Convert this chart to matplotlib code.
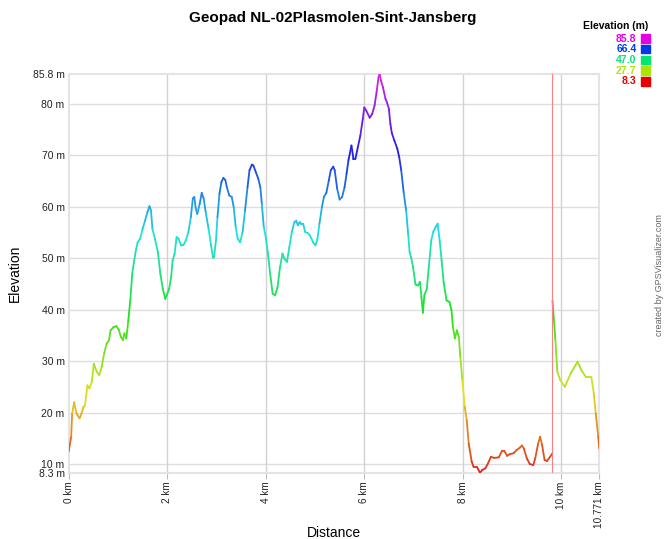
import colorsys
import numpy as np
import matplotlib
matplotlib.use("Agg")
import matplotlib.pyplot as plt
from matplotlib.collections import LineCollection
from matplotlib.patches import Rectangle

plt.rcParams['font.family'] = ['Liberation Sans', 'DejaVu Sans']

# track 1 (distance km, elevation m)
dist1 = [0.00, 0.05, 0.07, 0.11, 0.16, 0.22, 0.26, 0.30, 0.33, 0.38, 0.42, 0.47, 0.51, 0.57,
         0.62, 0.67, 0.72, 0.77, 0.82, 0.85, 0.91, 0.97, 1.02, 1.06, 1.10, 1.13, 1.17, 1.21,
         1.25, 1.29, 1.33, 1.37, 1.40, 1.45, 1.50, 1.55, 1.60, 1.64, 1.67, 1.70, 1.75, 1.81,
         1.86, 1.91, 1.96, 1.99, 2.04, 2.08, 2.11, 2.15, 2.19, 2.23, 2.28, 2.33, 2.38, 2.43,
         2.48, 2.52, 2.55, 2.58, 2.61, 2.66, 2.70, 2.74, 2.78, 2.84, 2.89, 2.93, 2.95, 2.99,
         3.02, 3.06, 3.10, 3.14, 3.18, 3.21, 3.26, 3.31, 3.35, 3.39, 3.43, 3.48, 3.53, 3.58,
         3.63, 3.67, 3.72, 3.75, 3.80, 3.85, 3.89, 3.92, 3.96, 4.00, 4.04, 4.09, 4.14, 4.19,
         4.24, 4.29, 4.34, 4.38, 4.43, 4.48, 4.53, 4.58, 4.62, 4.65, 4.69, 4.72, 4.76, 4.80,
         4.85, 4.90, 4.96, 5.01, 5.05, 5.09, 5.14, 5.18, 5.23, 5.28, 5.32, 5.37, 5.40, 5.45,
         5.50, 5.55, 5.60, 5.64, 5.68, 5.74, 5.78, 5.82, 5.87, 5.92, 5.97, 6.00, 6.04, 6.11,
         6.16, 6.21, 6.25, 6.29, 6.31, 6.34, 6.38, 6.43, 6.46, 6.50, 6.53, 6.56, 6.61, 6.67,
         6.71, 6.75, 6.80, 6.85, 6.89, 6.92, 6.95, 6.99, 7.04, 7.09, 7.13, 7.16, 7.19, 7.22,
         7.27, 7.31, 7.36, 7.40, 7.45, 7.49, 7.53, 7.57, 7.61, 7.67, 7.73, 7.77, 7.80, 7.84,
         7.88, 7.92, 7.95, 7.99, 8.04, 8.08, 8.12, 8.18, 8.22, 8.29, 8.35, 8.39, 8.46, 8.51,
         8.57, 8.64, 8.73, 8.80, 8.84, 8.90, 8.95, 9.03, 9.09, 9.16, 9.20, 9.24, 9.30, 9.36,
         9.43, 9.47, 9.53, 9.57, 9.61, 9.66, 9.71, 9.77, 9.82]
elev1 = [12.4, 15.3, 19.8, 22.0, 19.8, 18.9, 19.8, 21.1, 21.4, 25.3, 24.7, 26.0, 29.5, 27.9,
         27.3, 28.9, 31.5, 33.4, 34.1, 36.0, 36.6, 36.8, 36.0, 34.7, 34.1, 35.4, 34.4, 37.9,
         41.8, 47.0, 49.6, 51.8, 53.1, 53.8, 55.7, 57.3, 59.0, 60.1, 59.3, 55.7, 53.8, 51.2,
         47.0, 44.1, 42.1, 42.8, 44.1, 46.4, 49.6, 50.9, 54.1, 53.8, 52.5, 52.6, 53.5, 55.1,
         58.0, 61.6, 61.9, 59.6, 58.6, 60.6, 62.7, 61.6, 59.0, 55.7, 52.5, 50.1, 50.2, 53.5,
         58.0, 62.5, 64.8, 65.6, 65.2, 63.8, 62.2, 61.9, 59.9, 56.1, 53.8, 53.1, 55.1, 59.3,
         63.8, 67.1, 68.2, 68.0, 66.7, 65.4, 63.8, 60.6, 56.1, 54.1, 51.2, 47.0, 43.1, 42.8,
         44.4, 48.3, 50.9, 49.9, 49.3, 52.2, 55.1, 57.0, 57.3, 56.4, 57.0, 56.7, 56.7, 55.1,
         54.9, 54.4, 53.1, 52.5, 53.8, 56.7, 59.9, 61.9, 62.7, 65.1, 67.1, 67.8, 67.1, 63.5,
         61.4, 61.9, 63.8, 66.4, 69.1, 71.9, 69.3, 69.3, 71.6, 73.8, 77.1, 79.3, 78.7, 77.3,
         78.0, 79.7, 82.3, 85.2, 85.8, 84.5, 83.2, 81.0, 80.3, 79.0, 76.1, 74.3, 72.9, 71.3,
         69.6, 67.1, 62.8, 59.3, 54.8, 51.2, 50.2, 48.3, 44.9, 44.7, 45.4, 42.5, 39.4, 42.8,
         44.1, 48.3, 53.5, 55.1, 56.1, 56.7, 53.5, 49.6, 45.4, 41.8, 41.5, 39.9, 36.6, 34.4,
         36.0, 34.7, 30.8, 26.3, 21.1, 18.5, 14.0, 10.5, 9.4, 9.4, 8.3, 8.8, 9.2, 10.1,
         11.4, 11.2, 11.3, 12.6, 12.6, 11.6, 11.9, 12.1, 12.7, 13.2, 13.6, 13.0, 11.1, 10.0,
         9.8, 11.1, 14.0, 15.3, 13.7, 10.8, 10.6, 11.4, 12.1]

# track 2
dist2 = [9.82, 9.85, 9.88, 9.92, 9.98, 10.07, 10.19, 10.33, 10.41, 10.50, 10.61, 10.66,
         10.70, 10.75, 10.771]
elev2 = [41.8, 37.9, 34.1, 27.9, 26.3, 25.0, 27.6, 29.9, 28.2, 26.9, 26.9, 23.7,
         19.8, 15.3, 13.0]

segment_break = 9.82
elev_min, elev_max = 8.3, 85.8
total_km = 10.771
legend_vals = [85.8, 66.4, 47.0, 27.7, 8.3]
xticks = [0, 2, 4, 6, 8, 10, 10.771]
xtick_labels = ['0 km', '2 km', '4 km', '6 km', '8 km', '10 km', '10.771 km']
yticks = [8.3, 10, 20, 30, 40, 50, 60, 70, 80, 85.8]


def elev_color(v):
    t = (v - elev_min) / (elev_max - elev_min)
    t = min(max(t, 0), 1)
    return colorsys.hsv_to_rgb(t * 300 / 360, 1.0, 0.9)


def line_color(v):
    # a bit lighter than the legend swatches, like the anti-aliased thin line
    r, g, b = elev_color(v)
    return (r * 0.85 + 0.12, g * 0.85 + 0.12, b * 0.85 + 0.12)


fig = plt.figure(figsize=(6.65, 5.39), dpi=100)
ax = fig.add_axes([0.1033, 0.1228, 0.7979, 0.7399])

for d, e in [(dist1, elev1), (dist2, elev2)]:
    pts = np.column_stack([d, e])
    segs = np.stack([pts[:-1], pts[1:]], axis=1)
    cols = [line_color((a + b) / 2) for a, b in zip(e[:-1], e[1:])]
    ax.add_collection(LineCollection(segs, colors=cols, linewidths=1.3, zorder=3,
                                     capstyle='round', joinstyle='round'))

ax.axvline(segment_break, color='#ff8080', lw=0.8, zorder=4)

ax.set_xlim(0, total_km)
ax.set_ylim(elev_min, elev_max)

for y in yticks[1:-1]:
    ax.axhline(y, color='#dedede', lw=1, zorder=1)
for x in xticks[1:-1]:
    ax.axvline(x, color='#d2d2d2', lw=1, zorder=1)

for s in ax.spines.values():
    s.set_color('#e4e4e4')
    s.set_linewidth(1.5)

ax.set_yticks(yticks)
ax.set_yticklabels([f'{v:g} m' for v in yticks], fontsize=7.5, color='#222222')
ax.set_xticks(xticks)
ax.set_xticklabels(xtick_labels, rotation=90, fontsize=7.2, color='#222222')
ax.tick_params(axis='y', length=0, pad=3)
ax.tick_params(axis='x', length=4, color='#bbbbbb', pad=2)

ax.set_ylabel('Elevation', fontsize=10, labelpad=8)
fig.text(334 / 665, 1 - 533 / 539, 'Distance', ha='center', va='center', fontsize=10)

fig.text(0.5, 1 - 18 / 539, 'Geopad NL-02Plasmolen-Sint-Jansberg', ha='center', va='center',
         fontsize=11, fontweight='bold')

fig.text(660 / 665, 1 - 275 / 539, 'created by GPSVisualizer.com', rotation=90,
         ha='center', va='center', fontsize=6.5, color='#666666')

# colour legend
fig.text(648 / 665, 1 - 26 / 539, 'Elevation (m)', ha='right', va='center',
         fontsize=7.5, fontweight='bold')
for i, v in enumerate(legend_vals):
    yc = 38.5 + i * 10.7
    c = elev_color(v)
    fig.text(636.5 / 665, 1 - yc / 539, f'{v:.1f}', ha='right', va='center',
             fontsize=7.5, fontweight='bold', color=c)
    fig.patches.append(Rectangle((641 / 665, 1 - (yc + 4.2) / 539), 8.5 / 665, 8.5 / 539,
                                 transform=fig.transFigure, color=c, figure=fig))

fig.savefig('out.png', dpi=100)
